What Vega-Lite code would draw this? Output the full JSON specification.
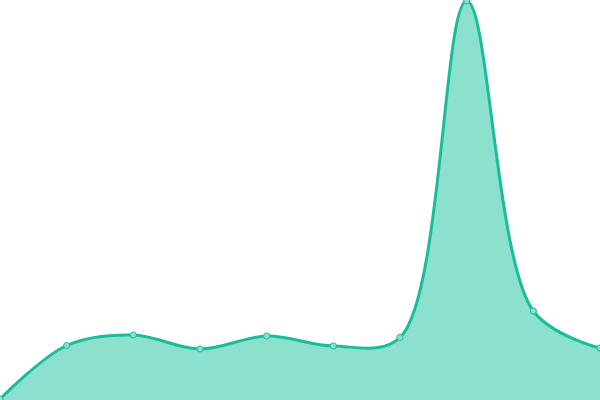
{
  "$schema": "https://vega.github.io/schema/vega-lite/v6.json",
  "autosize": "none",
  "width": 600,
  "height": 400,
  "padding": 0,
  "view": {"stroke": null},
  "data": {
    "values": [
      {"i": 0, "v": 1},
      {"i": 1, "v": 54.5},
      {"i": 2, "v": 65},
      {"i": 3, "v": 51},
      {"i": 4, "v": 64},
      {"i": 5, "v": 54},
      {"i": 6, "v": 62.5},
      {"i": 7, "v": 399},
      {"i": 8, "v": 89},
      {"i": 9, "v": 52}
    ]
  },
  "encoding": {
    "x": {"field": "i", "type": "quantitative", "axis": null, "scale": {"domain": [0, 9], "nice": false}},
    "y": {"field": "v", "type": "quantitative", "axis": null, "scale": {"domain": [0, 400], "nice": false}}
  },
  "layer": [
    {
      "mark": {"type": "area", "interpolate": "catmull-rom", "color": "#8be0ce", "opacity": 1}
    },
    {
      "mark": {"type": "line", "interpolate": "catmull-rom", "color": "#1abc9c", "strokeWidth": 3}
    },
    {
      "mark": {"type": "point", "filled": true, "size": 38, "fill": "#8be0ce", "stroke": "#1abc9c", "strokeWidth": 1, "opacity": 1}
    }
  ]
}
